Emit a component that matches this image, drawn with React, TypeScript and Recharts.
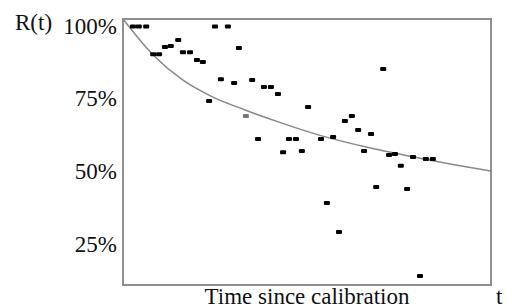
import {
  ComposedChart,
  Scatter,
  Line,
  XAxis,
  YAxis,
  ReferenceArea,
} from "recharts";

// time since calibration (arbitrary units 0..100) and reliability R(t) in %
const obsTime = [
  2.7, 4.3, 6.3, 8.2, 9.8, 11.4, 13.0, 15.0, 16.3, 18.2, 20.1, 21.7, 23.4, 25.0,
  28.5, 26.6, 30.2, 31.5, 35.1, 36.7, 38.3, 40.2, 42.1, 50.3, 43.5, 45.1, 47.0,
  48.6, 53.8, 57.1, 60.3, 62.2, 63.9, 65.5, 67.4, 70.7, 72.3, 73.9, 75.5, 78.8,
  82.3, 84.2, 68.8, 77.2, 55.4, 58.7, 80.7,
];
const obsR = [
  100, 100, 100, 90.5, 90.5, 93.0, 93.3, 95.4, 91.2, 91.2, 88.5, 87.8, 74.4, 100,
  100, 81.9, 80.6, 92.6, 81.6, 61.3, 79.2, 79.2, 76.8, 72.3, 56.8, 61.3, 61.3,
  57.2, 61.3, 62.0, 67.5, 69.2, 64.4, 57.2, 63.0, 85.4, 55.8, 56.2, 52.1, 55.1,
  54.4, 54.4, 44.8, 44.1, 39.3, 29.3, 14.2,
];
// one faint point sitting on the fitted curve
const faintTime = [33.4];
const faintR = [69.2];

// fitted reliability curve
const fitTime = [0, 8, 16, 24, 33, 42, 54, 67, 80, 90, 100];
const fitR = [102.6, 90.5, 81.8, 76.0, 71.4, 67.3, 62.4, 58.3, 54.9, 52.5, 50.3];

const yTicks = [25, 50, 75, 100];

const obsData = obsTime.map((t, i) => ({ t, r: obsR[i] }));
const faintData = faintTime.map((t, i) => ({ t, r: faintR[i] }));
const fitData = fitTime.map((t, i) => ({ t, fit: fitR[i] }));

const SERIF = "'Liberation Serif', 'Times New Roman', serif";

const Square = (props: any) => {
  const { cx, cy, fill } = props;
  if (cx == null || cy == null) return null;
  return <rect x={cx - 3} y={cy - 2} width={6} height={4} rx={1} fill={fill} />;
};

export default function App() {
  return (
    <div style={{ position: "absolute", left: 0, top: 0, width: 507, height: 308, background: "#fff", fontFamily: SERIF, color: "#111" }}>
      <ComposedChart width={507} height={308} margin={{ top: 19, right: 16, bottom: 23, left: 0 }}>
        <XAxis type="number" dataKey="t" domain={[0, 100]} hide />
        <YAxis
          type="number"
          domain={[11.1, 102.6]}
          ticks={yTicks}
          tickFormatter={(v) => `${v}%`}
          tick={{ fill: "#111", fontSize: 23, fontFamily: SERIF, dy: -1 }}
          axisLine={false}
          tickLine={false}
          tickMargin={0}
          width={123}
          allowDataOverflow
        />
        <ReferenceArea x1={0} x2={100} y1={11.1} y2={102.6} fill="none" stroke="#8f8f8f" strokeWidth={2} ifOverflow="visible" />
        <Line
          data={fitData}
          dataKey="fit"
          type="monotone"
          stroke="#888"
          strokeWidth={1.5}
          dot={false}
          isAnimationActive={false}
        />
        <Scatter data={obsData} dataKey="r" fill="#000" shape={<Square />} isAnimationActive={false} />
        <Scatter data={faintData} dataKey="r" fill="#777" shape={<Square />} isAnimationActive={false} />
      </ComposedChart>
      <div style={{ position: "absolute", left: 15, top: 9, fontSize: 23, lineHeight: "28px" }}>R(t)</div>
      <div style={{ position: "absolute", left: 123, width: 368, top: 285, fontSize: 23, lineHeight: "23px", textAlign: "center", whiteSpace: "nowrap" }}>
        Time since calibration
      </div>
      <div style={{ position: "absolute", left: 496, top: 285, fontSize: 23, lineHeight: "23px" }}>t</div>
    </div>
  );
}
